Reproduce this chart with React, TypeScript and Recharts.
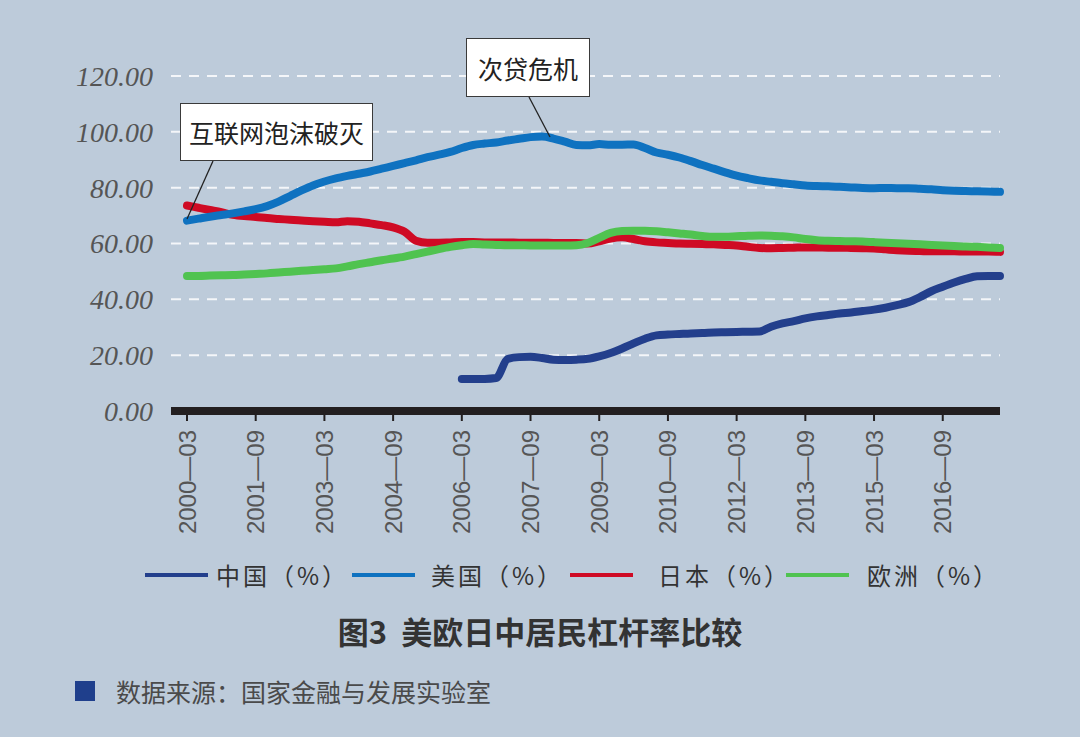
import { CartesianGrid, Line, LineChart, XAxis, YAxis } from "recharts"

// quarterly categories 2000-03 .. 2017-12
const quarters: string[] = []
for (let y = 2000; y <= 2017; y++) {
  for (const m of ["03", "06", "09", "12"]) quarters.push(`${y}—${m}`)
}

const yTicks = [0, 20, 40, 60, 80, 100, 120]

const china: (number | null)[] = [
  null, null, null, null, null, null, null, null, null, null, null, null,
  null, null, null, null, null, null, null, null, null, null, null, null,
  11.5, 11.5, 11.5, 11.8, 18.6, 19.3, 19.4, 19.0, 18.4, 18.3, 18.4, 18.7,
  19.6, 20.8, 22.4, 24.2, 25.9, 27.1, 27.4, 27.6, 27.8, 27.9, 28.1, 28.2,
  28.3, 28.4, 28.5, 30.2, 31.4, 32.2, 33.2, 33.9, 34.4, 34.9, 35.3, 35.8,
  36.3, 37.0, 37.9, 39.0, 40.8, 42.9, 44.5, 46.0, 47.3, 48.3, 48.4, 48.4,
]

const usa = [
  68.2, 68.9, 69.6, 70.2, 70.8, 71.5, 72.3, 73.4, 75.0, 77.0, 79.0, 80.8,
  82.2, 83.3, 84.2, 85.0, 85.8, 86.8, 87.8, 88.8, 89.8, 90.9, 91.8, 92.8,
  94.2, 95.3, 95.8, 96.2, 96.9, 97.5, 98.1, 98.3, 97.6, 96.5, 95.3, 95.2,
  95.6, 95.4, 95.4, 95.5, 94.2, 92.6, 91.8, 90.8, 89.5, 88.1, 86.8, 85.5,
  84.3, 83.4, 82.6, 82.1, 81.6, 81.2, 80.8, 80.6, 80.5, 80.3, 80.1, 79.9,
  79.8, 79.9, 79.8, 79.8, 79.6, 79.4, 79.1, 78.9, 78.8, 78.7, 78.6, 78.5,
]

const japan = [
  73.6, 72.8, 72.0, 71.2, 70.3, 69.8, 69.5, 69.1, 68.8, 68.5, 68.2, 68.0,
  67.8, 67.6, 68.0, 67.8, 67.2, 66.6, 65.8, 64.2, 61.0, 60.3, 60.3, 60.4,
  60.5, 60.5, 60.4, 60.4, 60.4, 60.3, 60.3, 60.3, 60.2, 60.2, 60.2, 60.0,
  60.8, 61.8, 62.2, 61.6, 60.8, 60.4, 60.2, 60.0, 59.9, 59.8, 59.7, 59.5,
  59.3, 58.8, 58.4, 58.3, 58.4, 58.5, 58.6, 58.6, 58.5, 58.5, 58.4, 58.3,
  58.2, 57.9, 57.6, 57.4, 57.3, 57.2, 57.2, 57.2, 57.1, 57.1, 57.1, 57.0,
]

const europe = [
  48.4, 48.4, 48.5, 48.6, 48.7, 48.9, 49.1, 49.3, 49.6, 49.9, 50.2, 50.5,
  50.8, 51.1, 51.8, 52.6, 53.3, 54.0, 54.6, 55.3, 56.2, 57.1, 58.0, 58.8,
  59.4, 59.8, 59.6, 59.5, 59.4, 59.4, 59.3, 59.3, 59.3, 59.3, 59.4, 60.2,
  62.0, 63.8, 64.5, 64.6, 64.6, 64.4, 64.0, 63.6, 63.2, 62.7, 62.4, 62.4,
  62.6, 62.8, 62.9, 62.8, 62.6, 62.2, 61.6, 61.2, 61.0, 60.9, 60.8, 60.7,
  60.5, 60.3, 60.1, 59.9, 59.7, 59.5, 59.3, 59.1, 58.9, 58.8, 58.6, 58.4,
]

const series = [
  { key: "china", name: "中国（%）", color: "#233f8c" },
  { key: "usa", name: "美国（%）", color: "#0f72c0" },
  { key: "japan", name: "日本（%）", color: "#cf0a24" },
  { key: "europe", name: "欧洲（%）", color: "#50c350" },
]
// drawing order: red under green, blues on top
const drawOrder = ["japan", "europe", "usa", "china"]

const data = quarters.map((q, i) => ({
  name: q,
  china: china[i],
  usa: usa[i],
  japan: japan[i],
  europe: europe[i],
}))

const cjk = '"Noto Sans CJK SC", "Noto Sans", sans-serif'
const legendLineLeft = [145, 352, 570, 786]
const legendTextLeft = [216, 431, 658, 867]

function XTick({ x, y, payload }: any) {
  return (
    <text
      transform={`translate(${x},${y}) rotate(-90)`}
      textAnchor="end"
      dominantBaseline="central"
      fontSize={24}
      fontFamily='"Liberation Sans", Arial, sans-serif'
      fill="#555"
    >
      {payload.value}
    </text>
  )
}

export default function App() {
  return (
    <div
      style={{
        position: "absolute",
        left: 0,
        top: 0,
        width: 1080,
        height: 737,
        background: "#bdcbda",
        overflow: "hidden",
      }}
    >
      <LineChart width={1080} height={737} data={data} margin={{ top: 76, right: 80, left: 0, bottom: 196 }}>
        <CartesianGrid vertical={false} stroke="#f4f6f9" strokeDasharray="10 8" strokeWidth={2} />
        <XAxis
          dataKey="name"
          height={130}
          interval={5}
          padding={{ left: 16, right: 0 }}
          axisLine={{ stroke: "#231f20", strokeWidth: 8 }}
          tickLine={{ stroke: "#231f20", strokeWidth: 2 }}
          tickSize={10}
          tickMargin={9}
          tick={<XTick />}
        />
        <YAxis
          width={171}
          domain={[0, 120]}
          ticks={yTicks}
          axisLine={false}
          tickLine={false}
          tickSize={6}
          tickMargin={12}
          tickFormatter={(v: number) => v.toFixed(2)}
          tick={{ fontSize: 28, fontStyle: "italic", fontFamily: '"Liberation Serif", "Times New Roman", serif', fill: "#555" }}
        />
        {drawOrder.map((k) => {
          const s = series.find((d) => d.key === k)!
          return (
            <Line
              key={k}
              type="monotone"
              dataKey={k}
              name={s.name}
              stroke={s.color}
              strokeWidth={8}
              strokeLinecap="round"
              strokeLinejoin="round"
              dot={false}
              activeDot={false}
              isAnimationActive={false}
            />
          )
        })}
      </LineChart>

      {/* annotation connectors */}
      <svg width={1080} height={737} style={{ position: "absolute", left: 0, top: 0, pointerEvents: "none" }}>
        <line x1={213} y1={161} x2={187} y2={219} stroke="#222" strokeWidth={1.3} />
        <line x1={529} y1={97} x2={550} y2={137} stroke="#222" strokeWidth={1.3} />
      </svg>

      <div style={{ ...boxStyle, left: 180, top: 103, width: 193, height: 58 }}>互联网泡沫破灭</div>
      <div style={{ ...boxStyle, left: 466, top: 38, width: 124, height: 59 }}>次贷危机</div>

      {/* legend */}
      {series.map((s, i) => (
        <div key={s.key}>
          <div
            style={{
              position: "absolute",
              left: legendLineLeft[i],
              top: 573,
              width: 63,
              height: 4,
              background: s.color,
            }}
          />
          <div
            style={{
              position: "absolute",
              left: legendTextLeft[i],
              top: 559,
              fontSize: 24,
              lineHeight: "32px",
              letterSpacing: 3,
              fontFamily: cjk,
              color: "#333",
              whiteSpace: "nowrap",
            }}
          >
            {s.name}
          </div>
        </div>
      ))}

      <div
        style={{
          position: "absolute",
          left: 0,
          width: 1080,
          top: 611,
          textAlign: "center",
          fontSize: 31,
          lineHeight: "40px",
          fontWeight: 700,
          fontFamily: cjk,
          color: "#333",
          whiteSpace: "pre",
        }}
      >
        图3  美欧日中居民杠杆率比较
      </div>

      <div style={{ position: "absolute", left: 75, top: 681, width: 20, height: 20, background: "#1f3f8c" }} />
      <div
        style={{
          position: "absolute",
          left: 116,
          top: 674,
          fontSize: 25,
          lineHeight: "34px",
          fontFamily: cjk,
          color: "#4a4a4a",
          whiteSpace: "nowrap",
        }}
      >
        数据来源：国家金融与发展实验室
      </div>
    </div>
  )
}

const boxStyle: React.CSSProperties = {
  position: "absolute",
  boxSizing: "border-box",
  background: "#fff",
  border: "1.5px solid #3a3a3a",
  display: "flex",
  alignItems: "center",
  justifyContent: "center",
  fontSize: 25,
  fontFamily: cjk,
  color: "#222",
  whiteSpace: "nowrap",
}
